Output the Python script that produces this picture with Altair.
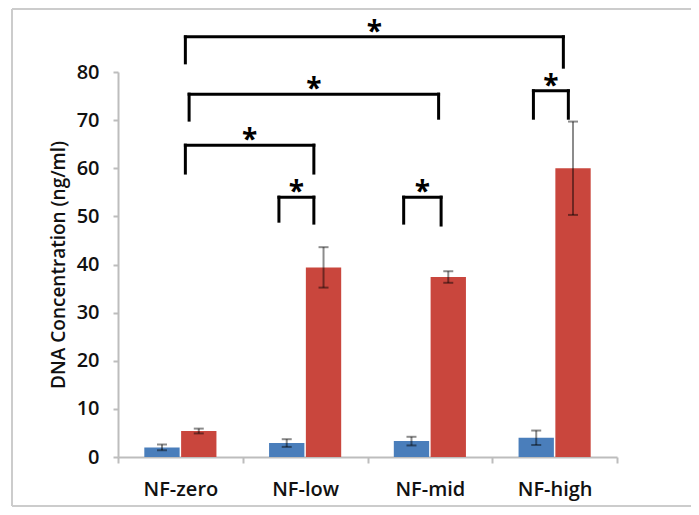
import altair as alt
import pandas as pd

# ---- data ----
categories = ["NF-zero", "NF-low", "NF-mid", "NF-high"]
series_names = ["Series 1", "Series 2"]
blue_values = [2.0, 2.9, 3.3, 4.0]
blue_errors = [0.6, 0.8, 0.9, 1.5]
red_values = [5.4, 39.4, 37.4, 60.0]
red_errors = [0.5, 4.2, 1.2, 9.7]

# significance brackets (x in category units 0..4 across the axis, y in ng/ml)
bracket_left = [0.54, 0.57, 0.54, 1.29, 2.29, 3.33]
bracket_right = [3.57, 2.57, 1.57, 1.57, 2.59, 3.61]
bracket_top = [87.3, 75.4, 64.8, 54.0, 54.0, 76.1]
bracket_left_end = [81.9, 70.0, 59.0, 49.0, 48.6, 70.4]
bracket_right_end = [81.0, 70.4, 59.0, 48.6, 48.2, 70.4]
bracket_label = ["*", "*", "*", "*", "*", "*"]

BLUE = "#4A7EBB"
RED = "#C9463D"
FONT = "Open Sans"
Y_TITLE = "DNA Concentration (ng/ml)"

rows = []
for s, vals, errs in [(series_names[0], blue_values, blue_errors),
                      (series_names[1], red_values, red_errors)]:
    for c, v, e in zip(categories, vals, errs):
        rows.append({"category": c, "series": s, "value": v,
                     "lo": v - e, "hi": v + e})
df = pd.DataFrame(rows)

segs = []
for l, r, t, le, re_ in zip(bracket_left, bracket_right, bracket_top,
                            bracket_left_end, bracket_right_end):
    segs.append({"x": l, "x2": l, "y": le, "y2": t})
    segs.append({"x": l, "x2": r, "y": t, "y2": t})
    segs.append({"x": r, "x2": r, "y": t, "y2": re_})
seg_df = pd.DataFrame(segs)

star_df = pd.DataFrame({
    "x": [(l + r) / 2 for l, r in zip(bracket_left, bracket_right)],
    "y": bracket_top,
    "label": bracket_label,
})

W, H = 499, 385

x_enc = alt.X("category:N", sort=categories,
              scale=alt.Scale(paddingInner=0, paddingOuter=0),
              axis=alt.Axis(title=None, labelAngle=0, tickBand="extent",
                            tickSize=6, labelPadding=16,
                            domainColor="#BDBDBD", tickColor="#BDBDBD",
                            domainWidth=2, tickWidth=2))
xo_enc = alt.XOffset("series:N", sort=series_names,
                     scale=alt.Scale(paddingInner=0.04, paddingOuter=0.715))
y_scale = alt.Scale(domain=[0, 80], nice=False, zero=True)
y_axis = alt.Axis(title=Y_TITLE,
                  values=list(range(0, 90, 10)), grid=False,
                  tickSize=5, labelPadding=14,
                  domainColor="#BDBDBD", tickColor="#BDBDBD",
                  domainWidth=2, tickWidth=2,
                  titlePadding=8)

bars = alt.Chart(df).mark_bar().encode(
    x=x_enc, xOffset=xo_enc,
    y=alt.Y("value:Q", scale=y_scale, axis=y_axis),
    color=alt.Color("series:N", sort=series_names,
                    scale=alt.Scale(domain=series_names, range=[BLUE, RED]),
                    legend=None),
)
err = alt.Chart(df).mark_rule(color="black", opacity=0.45, strokeWidth=2).encode(
    x=x_enc, xOffset=xo_enc,
    y=alt.Y("lo:Q", scale=y_scale, axis=y_axis), y2="hi:Q",
)
cap_hi = alt.Chart(df).mark_tick(color="black", opacity=0.45, thickness=2, size=10).encode(
    x=x_enc, xOffset=xo_enc, y=alt.Y("hi:Q", scale=y_scale, axis=y_axis),
)
cap_lo = alt.Chart(df).mark_tick(color="black", opacity=0.45, thickness=2, size=10).encode(
    x=x_enc, xOffset=xo_enc, y=alt.Y("lo:Q", scale=y_scale, axis=y_axis),
)
main = alt.layer(bars, err, cap_hi, cap_lo)

bx = alt.Scale(domain=[0, 4], nice=False, zero=False)
brackets = alt.Chart(seg_df).mark_rule(color="black", strokeWidth=3, strokeCap="square").encode(
    x=alt.X("x:Q", scale=bx, axis=None), x2="x2:Q",
    y=alt.Y("y:Q", scale=y_scale, axis=y_axis), y2="y2:Q",
)
stars = alt.Chart(star_df).mark_text(font=FONT, fontSize=28, fontWeight="bold",
                                     baseline="alphabetic", dy=4, color="black").encode(
    x=alt.X("x:Q", scale=bx, axis=None),
    y=alt.Y("y:Q", scale=y_scale, axis=y_axis),
    text="label:N",
)
one = pd.DataFrame({"k": [0]})
frame_left = alt.Chart(one).mark_rule(color="#CCCCCC", strokeWidth=2).encode(
    x=alt.value(-106), y=alt.value(-63), y2=alt.value(434))
frame_top = alt.Chart(one).mark_rule(color="#CCCCCC", strokeWidth=2).encode(
    x=alt.value(-106), x2=alt.value(574), y=alt.value(-63))
frame_bottom = alt.Chart(one).mark_rule(color="#CCCCCC", strokeWidth=2).encode(
    x=alt.value(-106), x2=alt.value(574), y=alt.value(434))
annot = alt.layer(brackets, stars, frame_left, frame_top, frame_bottom)

chart = alt.layer(main, annot).resolve_scale(x="independent").properties(
    width=W, height=H,
    autosize=alt.AutoSizeParams(type="none"),
    padding={"left": 110, "top": 64, "right": 74, "bottom": 50},
).configure_view(stroke=None).configure_axis(
    labelFont=FONT, labelFontSize=20, labelFontWeight=600, labelColor="#111111",
    titleFont=FONT, titleFontSize=19, titleFontWeight=600, titleColor="#111111",
)

chart.save("out.html", embed_options={"renderer": "svg", "actions": False})
